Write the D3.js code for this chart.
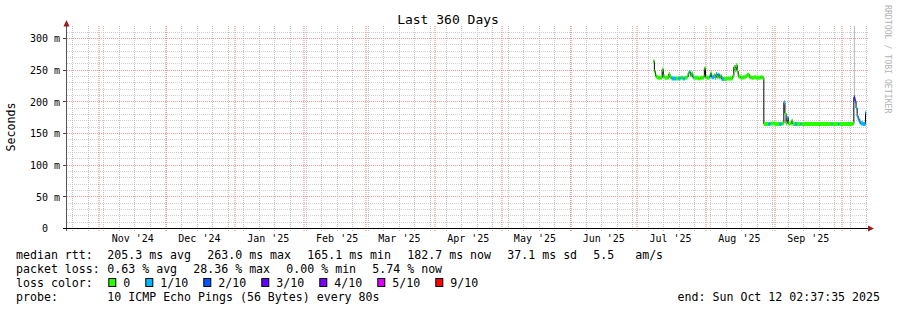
<!DOCTYPE html>
<head>
  <meta charset='utf-8'>
  <title>Last 360 Days</title>
  <style>
    body {
      margin: 0;
      background: #fff;
    }

    svg text {
      font-family: "DejaVu Sans Mono", monospace;
      fill: #000;
      white-space: pre;
    }

    .minor {
      stroke: #d0d0d0;
      stroke-dasharray: 1,1;
    }

    .minor-v {
      stroke: #c2c2c2;
      stroke-dasharray: 1,1;
    }

    .major {
      stroke: #f29c9c;
      stroke-dasharray: 1,1;
    }

    .major-v {
      stroke: #ee7c7c;
      stroke-dasharray: 1,1;
    }
  </style>
</head>

<body>
  <div id="chart"></div>

  <script src="https://cdnjs.cloudflare.com/ajax/libs/d3/7.8.5/d3.min.js"></script>
  <script type="text/javascript">
    var width = 897,
        height = 310;

    // median rtt samples (ms), lost pings out of 10, smoke spread (ms)
    var times = [
      "2025-07-08T06", "2025-07-08T18", "2025-07-09T06", "2025-07-09T18", "2025-07-10T12",
      "2025-07-11T12", "2025-07-12T06", "2025-07-12T18", "2025-07-13T12", "2025-07-14T12",
      "2025-07-15T06", "2025-07-15T18", "2025-07-16T12", "2025-07-17T12", "2025-07-18T12",
      "2025-07-19T12", "2025-07-20T12", "2025-07-21T12", "2025-07-22T12", "2025-07-23T12",
      "2025-07-24T00", "2025-07-24T12", "2025-07-25T00", "2025-07-25T12", "2025-07-26T00",
      "2025-07-26T12", "2025-07-27T12", "2025-07-28T12", "2025-07-29T12", "2025-07-30T12",
      "2025-07-31T00", "2025-07-31T06", "2025-07-31T18", "2025-08-01T12", "2025-08-02T12",
      "2025-08-03T00", "2025-08-03T12", "2025-08-04T12", "2025-08-05T00", "2025-08-05T12",
      "2025-08-06T00", "2025-08-06T12", "2025-08-07T00", "2025-08-07T12", "2025-08-08T00",
      "2025-08-09T00", "2025-08-10T00", "2025-08-11T00", "2025-08-12T00", "2025-08-13T00",
      "2025-08-13T12", "2025-08-14T00", "2025-08-14T12", "2025-08-15T00", "2025-08-15T12",
      "2025-08-16T12", "2025-08-17T12", "2025-08-18T12", "2025-08-19T12", "2025-08-20T12",
      "2025-08-21T12", "2025-08-22T12", "2025-08-23T12", "2025-08-24T12", "2025-08-25T12",
      "2025-08-26T12", "2025-08-27T00", "2025-08-29T00", "2025-08-30T00", "2025-09-01T00",
      "2025-09-03T00", "2025-09-04T00", "2025-09-05T00", "2025-09-05T12", "2025-09-06T00",
      "2025-09-06T12", "2025-09-07T00", "2025-09-08T00", "2025-09-08T12", "2025-09-09T00",
      "2025-09-10T00", "2025-09-11T00", "2025-09-12T12", "2025-09-13T00", "2025-09-26T12",
      "2025-09-27T00", "2025-09-29T12", "2025-09-30T00", "2025-10-06T00", "2025-10-06T12",
      "2025-10-07T00", "2025-10-07T12", "2025-10-08T00", "2025-10-08T12", "2025-10-09T00",
      "2025-10-09T12", "2025-10-10T12", "2025-10-11T12", "2025-10-11T18", "2025-10-12T02"
    ];

    var median = [
      264, 248, 241, 239, 238,
      238, 251, 240, 238, 238,
      244, 239, 237, 237, 237,
      237, 238, 237, 238, 240,
      246, 247, 242, 245, 239,
      238, 238, 237, 238, 238,
      240, 253, 239, 238, 240,
      245, 239, 242, 238, 244,
      239, 243, 238, 241, 236,
      236, 237, 237, 237, 241,
      255, 250, 258, 248, 240,
      238, 239, 240, 243, 239,
      238, 239, 238, 238, 239,
      238, 165, 165, 166, 165,
      165, 166, 199, 182, 166,
      175, 166, 166, 170, 165,
      165, 165, 165, 165, 165,
      165, 165, 165, 166, 207,
      201, 190, 177, 172, 168,
      166, 165, 165, 183, 183
    ];

    var loss = [
      0, 0, 0, 0, 0,
      0, 0, 0, 0, 0,
      0, 0, 1, 1, 0,
      1, 0, 1, 0, 0,
      0, 1, 0, 0, 1,
      0, 0, 0, 0, 0,
      0, 0, 0, 0, 1,
      0, 1, 0, 1, 1,
      0, 1, 0, 0, 1,
      0, 0, 0, 0, 0,
      0, 0, 0, 0, 0,
      0, 0, 0, 0, 0,
      0, 0, 0, 0, 0,
      0, 0, 1, 0, 0,
      1, 0, 1, 0, 0,
      1, 0, 0, 0, 0,
      1, 0, 1, 0, 1,
      0, 1, 0, 0, 3,
      2, 1, 1, 1, 1,
      1, 1, 1, 1, 1
    ];

    var smokeUp = times.map(function(d) { return 2; });
    var smokeDown = times.map(function(d) { return 2; });
    smokeUp[89] = 130;
    smokeUp[94] = 6;
    smokeUp[95] = 4;

    var yTicks = [0, 50, 100, 150, 200, 250, 300];
    var yTickLabels = ["0  ", "50 m", "100 m", "150 m", "200 m", "250 m", "300 m"];
    var monthLabels = ["Nov '24", "Dec '24", "Jan '25", "Feb '25", "Mar '25", "Apr '25",
                       "May '25", "Jun '25", "Jul '25", "Aug '25", "Sep '25"];

    var rttStats = ["205.3 ms avg", "263.0 ms max", "165.1 ms min", "182.7 ms now", "37.1 ms sd", "5.5   am/s"];
    var lossStats = ["0.63 % avg", "28.36 % max", "0.00 % min", "5.74 % now"];
    var lossLevels = ["0", "1/10", "2/10", "3/10", "4/10", "5/10", "9/10"];
    var lossThresholds = [0, 1, 2, 3, 4, 5, 9];
    var lossColors = ["#26ff00", "#00b8ff", "#0059ff", "#5e00ff", "#7e00ff", "#dd00ff", "#ff0000"];
    var probeText = "10 ICMP Echo Pings (56 Bytes) every 80s";
    var endText = "end: Sun Oct 12 02:37:35 2025";

    var parse = d3.utcParse("%Y-%m-%dT%H");
    var end = new Date(Date.UTC(2025, 9, 12, 2, 37, 35));
    var start = d3.utcDay.offset(end, -360);

    var data = times.map(function(t, i) {
      return { t: parse(t), v: median[i], loss: loss[i], up: smokeUp[i], down: smokeDown[i] };
    });

    var x = d3.scaleTime().domain([start, end]).range([66.3, 866.3]);
    var y = d3.scaleLinear().domain([0, 319]).range([228.5, 26.5]);

    function snap(v) { return Math.floor(v) + 0.5; }
    function lossColor(n) {
      var c = lossColors[0];
      lossThresholds.forEach(function(th, i) { if (n >= th) c = lossColors[i]; });
      return c;
    }

    var svg = d3.select("#chart").append("svg")
        .attr("width", width)
        .attr("height", height)
        .style("display", "block");

    svg.append("rect").attr("width", width).attr("height", height).attr("fill", "#fff");

    svg.append("defs").append("clipPath").attr("id", "plot")
      .append("rect").attr("x", 66.5).attr("y", 26).attr("width", 800).attr("height", 202.5);

    // grid
    var grid = svg.append("g");
    var minorY = d3.range(10, 320, 10).filter(function(d) { return d % 50 !== 0; });
    var majorY = yTicks.filter(function(d) { return d > 0; });
    var weeks = d3.utcSunday.range(start, end);
    var months = d3.utcMonth.range(start, end);

    grid.selectAll(".my").data(minorY).enter().append("line")
        .attr("class", "minor")
        .attr("stroke-dashoffset", function(d, i) { return i % 2; })
        .attr("x1", 67).attr("x2", 868)
        .attr("y1", function(d) { return snap(y(d)); })
        .attr("y2", function(d) { return snap(y(d)); });

    grid.selectAll(".mx").data(weeks).enter().append("line")
        .attr("class", "minor-v")
        .attr("x1", function(d) { return snap(x(d)); })
        .attr("x2", function(d) { return snap(x(d)); })
        .attr("y1", 26).attr("y2", 231);

    grid.selectAll(".My").data(majorY).enter().append("line")
        .attr("class", "major")
        .attr("x1", 67).attr("x2", 868)
        .attr("y1", function(d) { return snap(y(d)); })
        .attr("y2", function(d) { return snap(y(d)); });

    grid.selectAll(".Mx").data(months).enter().append("line")
        .attr("class", "major-v")
        .attr("x1", function(d) { return Math.round(x(d)); })
        .attr("x2", function(d) { return Math.round(x(d)); })
        .attr("y1", 26).attr("y2", 231);

    // data
    var steps = data.concat([{ t: end, v: data[data.length - 1].v, up: 0, down: 0 }]);
    var plot = svg.append("g").attr("clip-path", "url(#plot)");

    plot.append("path")
        .datum(steps)
        .attr("fill", "#bcbcbc")
        .attr("d", d3.area().curve(d3.curveStepAfter)
          .x(function(d) { return x(d.t); })
          .y0(function(d) { return y(d.v - d.down); })
          .y1(function(d) { return y(d.v + d.up); }));

    plot.append("path")
        .datum(steps)
        .attr("fill", "none")
        .attr("stroke", "#000")
        .attr("stroke-width", 1)
        .attr("d", d3.line().curve(d3.curveStepAfter)
          .x(function(d) { return x(d.t); })
          .y(function(d) { return y(d.v); }));

    plot.selectAll(".seg").data(data).enter().append("line")
        .attr("stroke", function(d) { return lossColor(d.loss); })
        .attr("stroke-width", 4)
        .attr("x1", function(d) { return x(d.t); })
        .attr("x2", function(d, i) { return x(steps[i + 1].t); })
        .attr("y1", function(d) { return y(d.v); })
        .attr("y2", function(d) { return y(d.v); });

    // axes
    svg.selectAll(".ytick").data(yTicks).enter().append("line")
        .attr("stroke", "#444")
        .attr("x1", 63).attr("x2", 67)
        .attr("y1", function(d) { return snap(y(d)); })
        .attr("y2", function(d) { return snap(y(d)); });

    svg.selectAll(".ylabel").data(yTicks).enter().append("text")
        .attr("x", 60)
        .attr("y", function(d) { return y(d) + 3.7; })
        .attr("text-anchor", "end")
        .style("font-size", "10px")
        .text(function(d, i) { return yTickLabels[i]; });

    svg.append("line")
        .attr("stroke", "#555")
        .attr("x1", 66.5).attr("x2", 66.5)
        .attr("y1", 231).attr("y2", 24);
    svg.append("path")
        .attr("fill", "#9a1c1c")
        .attr("d", "M63.5,26.5L69.5,26.5L66.5,20Z");

    svg.append("line")
        .attr("stroke", "#000")
        .attr("x1", 63).attr("x2", 870)
        .attr("y1", 228.5).attr("y2", 228.5);
    svg.append("path")
        .attr("fill", "#9a1c1c")
        .attr("d", "M868,225.5L868,231.5L874,228.5Z");

    var labelMonths = d3.utcMonth.range(new Date(Date.UTC(2024, 10, 1)), new Date(Date.UTC(2025, 9, 1)));
    svg.selectAll(".xlabel").data(labelMonths).enter().append("text")
        .attr("x", function(d) { return x(d3.utcDay.offset(d, 15)); })
        .attr("y", 241.5)
        .attr("text-anchor", "middle")
        .style("font-size", "10px")
        .text(function(d, i) { return monthLabels[i]; });

    // titles
    svg.append("text")
        .attr("x", 448).attr("y", 23.5)
        .attr("text-anchor", "middle")
        .style("font-size", "13px")
        .text("Last 360 Days");

    svg.append("text")
        .attr("transform", "translate(15,127) rotate(-90)")
        .attr("text-anchor", "middle")
        .style("font-size", "11.6px")
        .text("Seconds");

    svg.append("text")
        .attr("transform", "translate(884.5,5) rotate(90)")
        .style("font-size", "8.2px")
        .style("fill", "#b4b4b4")
        .text("RRDTOOL / TOBI OETIKER");

    // legend
    var charW = 7, legendX = 107.3, gap = 16;
    var legend = svg.append("g").style("font-size", "11.6px");

    function row(label, items, baseline) {
      legend.append("text").attr("x", 16).attr("y", baseline).text(label);
      var cx = legendX;
      items.forEach(function(s) {
        legend.append("text").attr("x", cx).attr("y", baseline).text(s);
        cx += s.length * charW + gap;
      });
    }

    row("median rtt:", rttStats, 259);
    row("packet loss:", lossStats, 273);

    legend.append("text").attr("x", 16).attr("y", 287).text("loss color:");
    var lx = legendX + 1;
    lossLevels.forEach(function(s, i) {
      legend.append("rect")
          .attr("x", lx + 0.5).attr("y", 278.5)
          .attr("width", 7).attr("height", 8)
          .attr("fill", lossColors[i])
          .attr("stroke", "#000");
      legend.append("text").attr("x", lx + 15).attr("y", 287).text(s);
      lx += 15 + s.length * charW + 15;
    });

    row("probe:", [probeText], 301);
    legend.append("text")
        .attr("x", 880).attr("y", 301)
        .attr("text-anchor", "end")
        .text(endText);
  </script>
</body>
